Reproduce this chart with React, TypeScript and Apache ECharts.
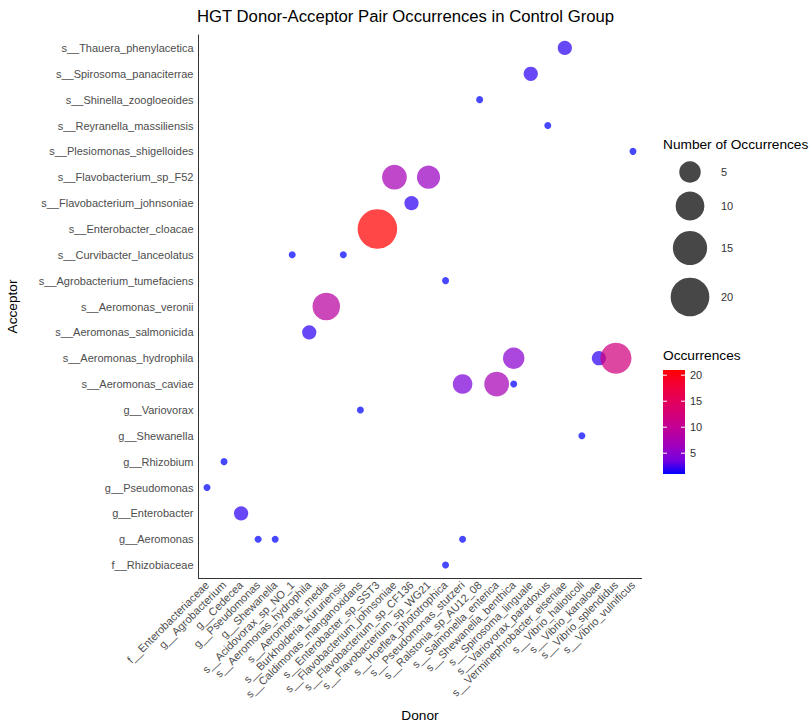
import React, { useEffect, useRef } from "react";
import * as echarts from "echarts";

// Donor taxa (x axis), in axis order
const donors = [
  "f__Enterobacteriaceae",
  "g__Agrobacterium",
  "g__Cedecea",
  "g__Pseudomonas",
  "g__Shewanella",
  "s__Acidovorax_sp_NO_1",
  "s__Aeromonas_hydrophila",
  "s__Aeromonas_media",
  "s__Burkholderia_kururiensis",
  "s__Caldimonas_manganoxidans",
  "s__Enterobacter_sp_SST3",
  "s__Flavobacterium_johnsoniae",
  "s__Flavobacterium_sp_CF136",
  "s__Flavobacterium_sp_WG21",
  "s__Hoeflea_phototrophica",
  "s__Pseudomonas_stutzeri",
  "s__Ralstonia_sp_AU12_08",
  "s__Salmonella_enterica",
  "s__Shewanella_benthica",
  "s__Spirosoma_linguale",
  "s__Variovorax_paradoxus",
  "s__Verminephrobacter_eiseniae",
  "s__Vibrio_halioticoli",
  "s__Vibrio_kanaloae",
  "s__Vibrio_splendidus",
  "s__Vibrio_vulnificus",
];

// Acceptor taxa (y axis), bottom to top
const acceptors = [
  "f__Rhizobiaceae",
  "g__Aeromonas",
  "g__Enterobacter",
  "g__Pseudomonas",
  "g__Rhizobium",
  "g__Shewanella",
  "g__Variovorax",
  "s__Aeromonas_caviae",
  "s__Aeromonas_hydrophila",
  "s__Aeromonas_salmonicida",
  "s__Aeromonas_veronii",
  "s__Agrobacterium_tumefaciens",
  "s__Curvibacter_lanceolatus",
  "s__Enterobacter_cloacae",
  "s__Flavobacterium_johnsoniae",
  "s__Flavobacterium_sp_F52",
  "s__Plesiomonas_shigelloides",
  "s__Reyranella_massiliensis",
  "s__Shinella_zoogloeoides",
  "s__Spirosoma_panaciterrae",
  "s__Thauera_phenylacetica",
];

// Donor-acceptor pairs and their occurrence counts
const pairDonor = [
  "s__Verminephrobacter_eiseniae",
  "s__Spirosoma_linguale",
  "s__Ralstonia_sp_AU12_08",
  "s__Variovorax_paradoxus",
  "s__Vibrio_vulnificus",
  "s__Flavobacterium_johnsoniae",
  "s__Flavobacterium_sp_WG21",
  "s__Flavobacterium_sp_CF136",
  "s__Enterobacter_sp_SST3",
  "s__Acidovorax_sp_NO_1",
  "s__Burkholderia_kururiensis",
  "s__Hoeflea_phototrophica",
  "s__Aeromonas_media",
  "s__Aeromonas_hydrophila",
  "s__Shewanella_benthica",
  "s__Vibrio_kanaloae",
  "s__Vibrio_splendidus",
  "s__Pseudomonas_stutzeri",
  "s__Salmonella_enterica",
  "s__Shewanella_benthica",
  "s__Caldimonas_manganoxidans",
  "s__Vibrio_halioticoli",
  "g__Agrobacterium",
  "f__Enterobacteriaceae",
  "g__Cedecea",
  "g__Pseudomonas",
  "g__Shewanella",
  "s__Pseudomonas_stutzeri",
  "s__Hoeflea_phototrophica",
];

const pairAcceptor = [
  "s__Thauera_phenylacetica",
  "s__Spirosoma_panaciterrae",
  "s__Shinella_zoogloeoides",
  "s__Reyranella_massiliensis",
  "s__Plesiomonas_shigelloides",
  "s__Flavobacterium_sp_F52",
  "s__Flavobacterium_sp_F52",
  "s__Flavobacterium_johnsoniae",
  "s__Enterobacter_cloacae",
  "s__Curvibacter_lanceolatus",
  "s__Curvibacter_lanceolatus",
  "s__Agrobacterium_tumefaciens",
  "s__Aeromonas_veronii",
  "s__Aeromonas_salmonicida",
  "s__Aeromonas_hydrophila",
  "s__Aeromonas_hydrophila",
  "s__Aeromonas_hydrophila",
  "s__Aeromonas_caviae",
  "s__Aeromonas_caviae",
  "s__Aeromonas_caviae",
  "g__Variovorax",
  "g__Shewanella",
  "g__Rhizobium",
  "g__Pseudomonas",
  "g__Enterobacter",
  "g__Aeromonas",
  "g__Aeromonas",
  "g__Aeromonas",
  "f__Rhizobiaceae",
];

const pairCount = [2, 2, 1, 1, 1, 7, 6, 2, 21, 1, 1, 1, 9, 2, 5, 2, 12, 4, 7, 1, 1, 1, 1, 1, 2, 1, 1, 1, 1];

// Legend breaks
const sizeBreaks = [5, 10, 15, 20];
const colorBreaks = [5, 10, 15, 20];

// Blue-to-red ramp sampled in Lab space
const RAMP = [
  "#0000ff",
  "#7300e0",
  "#9a00c2",
  "#b500a5",
  "#ca0089",
  "#da006c",
  "#e80050",
  "#f40031",
  "#ff0000",
];

const FONT = "'Liberation Sans', Arial, sans-serif";
const AXIS_GREY = "#4d4d4d";

export default function App() {
  const ref = useRef<HTMLDivElement>(null);

  useEffect(() => {
    if (!ref.current) return;
    const chart = echarts.init(ref.current, null, { renderer: "svg" });

    const minC = Math.min(...pairCount);
    const maxC = Math.max(...pairCount);
    const sizeOf = (v: number) => 7 + 32.5 * Math.sqrt((v - minC) / (maxC - minC));

    const data = pairCount.map((c, i) => [pairDonor[i], pairAcceptor[i], c]);

    // size legend layout
    const sizeLegendX = 690;
    const sizeLegendY = [172, 206, 248, 297];
    // colour bar layout
    const barX = 663;
    const barTop = 370;
    const barBottom = 474;
    const barW = 22;
    const valToBarY = (v: number) => barBottom - ((v - minC) / (maxC - minC)) * (barBottom - barTop);

    const graphics: any[] = [
      {
        type: "text",
        left: 663,
        top: 137,
        style: { text: "Number of Occurrences", font: `13.7px ${FONT}`, fill: "#000" },
      },
      ...sizeBreaks.map((b, i) => ({
        type: "circle",
        shape: { cx: sizeLegendX, cy: sizeLegendY[i], r: sizeOf(b) / 2 },
        style: { fill: "#000", opacity: 0.72 },
      })),
      ...sizeBreaks.map((b, i) => ({
        type: "text",
        x: 721,
        y: sizeLegendY[i],
        style: {
          text: String(b),
          font: `11px ${FONT}`,
          fill: "#333",
          verticalAlign: "middle",
          align: "left",
        },
      })),
      {
        type: "text",
        left: 663,
        top: 348,
        style: { text: "Occurrences", font: `13.7px ${FONT}`, fill: "#000" },
      },
      {
        type: "rect",
        shape: { x: barX, y: barTop, width: barW, height: barBottom - barTop },
        style: {
          fill: new echarts.graphic.LinearGradient(
            0,
            1,
            0,
            0,
            RAMP.map((c, i) => ({ offset: i / (RAMP.length - 1), color: c }))
          ),
        },
      },
      ...colorBreaks.flatMap((b) => {
        const y = valToBarY(b);
        return [
          {
            type: "line",
            shape: { x1: barX, y1: y, x2: barX + 4, y2: y },
            style: { stroke: "#fff", lineWidth: 1 },
          },
          {
            type: "line",
            shape: { x1: barX + barW - 4, y1: y, x2: barX + barW, y2: y },
            style: { stroke: "#fff", lineWidth: 1 },
          },
          {
            type: "text",
            x: 690,
            y,
            style: {
              text: String(b),
              font: `11px ${FONT}`,
              fill: "#333",
              verticalAlign: "middle",
              align: "left",
            },
          },
        ];
      }),
    ];

    chart.setOption({
      animation: false,
      backgroundColor: "#fff",
      title: {
        text: "HGT Donor-Acceptor Pair Occurrences in Control Group",
        left: 197,
        top: 8,
        padding: 0,
        textStyle: { fontFamily: FONT, fontSize: 16.7, fontWeight: "normal", color: "#000" },
      },
      grid: {
        left: 198.5,
        right: 170.5,
        top: 35,
        bottom: 148,
        containLabel: false,
        outerBoundsMode: "none",
      },
      xAxis: {
        type: "category",
        data: donors,
        boundaryGap: true,
        name: "Donor",
        nameLocation: "middle",
        nameGap: 130,
        nameTextStyle: { fontFamily: FONT, fontSize: 13.7, color: "#000" },
        axisLine: { lineStyle: { color: "#333", width: 1 } },
        axisTick: { alignWithLabel: true, length: 4, lineStyle: { color: "#333" } },
        axisLabel: {
          interval: 0,
          rotate: 45,
          margin: 5,
          fontFamily: FONT,
          fontSize: 11,
          color: AXIS_GREY,
        },
        splitLine: { show: false },
      },
      yAxis: {
        type: "category",
        data: acceptors,
        boundaryGap: true,
        name: "Acceptor",
        nameLocation: "middle",
        nameRotate: 90,
        nameGap: 179,
        nameTextStyle: { fontFamily: FONT, fontSize: 13.7, color: "#000" },
        axisLine: { lineStyle: { color: "#333", width: 1 } },
        axisTick: { alignWithLabel: true, length: 4, lineStyle: { color: "#333" } },
        axisLabel: {
          interval: 0,
          margin: 5,
          fontFamily: FONT,
          fontSize: 11,
          color: AXIS_GREY,
        },
        splitLine: { show: false },
      },
      visualMap: {
        show: false,
        type: "continuous",
        dimension: 2,
        seriesIndex: 0,
        min: minC,
        max: maxC,
        inRange: { color: RAMP },
      },
      series: [
        {
          type: "scatter",
          data,
          symbol: "circle",
          symbolSize: (val: any[]) => sizeOf(val[2] as number),
          itemStyle: { opacity: 0.72 },
        },
      ],
      graphic: graphics,
    });

    return () => chart.dispose();
  }, []);

  return (
    <div
      ref={ref}
      style={{ position: "fixed", left: 0, top: 0, width: 812, height: 726, background: "#fff" }}
    />
  );
}
